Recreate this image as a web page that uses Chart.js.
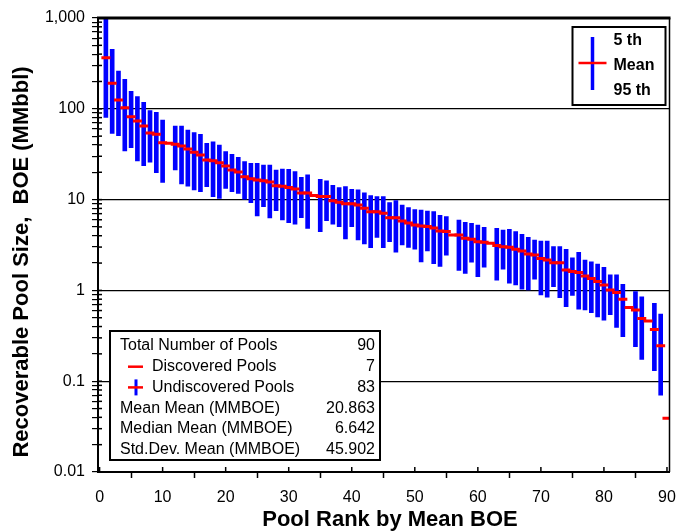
<!DOCTYPE html>
<html>
<head>
<meta charset="utf-8">
<script src="https://cdn.jsdelivr.net/npm/chart.js@4.4.0/dist/chart.umd.min.js"></script>
<style>
  html, body { margin: 0; padding: 0; background: #fff; }
</style>
</head>
<body>
<canvas id="myChart" width="677" height="531"></canvas>
<script>
"use strict";

// pools ranked by mean BOE
const poolRank = [
  1, 2, 3, 4, 5, 6, 7, 8, 9, 10, 11, 12, 13, 14, 15, 16, 17, 18, 19, 20,
  21, 22, 23, 24, 25, 26, 27, 28, 29, 30, 31, 32, 33, 34, 35, 36, 37, 38, 39, 40,
  41, 42, 43, 44, 45, 46, 47, 48, 49, 50, 51, 52, 53, 54, 55, 56, 57, 58, 59, 60,
  61, 62, 63, 64, 65, 66, 67, 68, 69, 70, 71, 72, 73, 74, 75, 76, 77, 78, 79, 80,
  81, 82, 83, 84, 85, 86, 87, 88, 89, 90
];
const meanBoe = [
  365, 191, 125, 103, 81.8, 73.4, 64.7, 54.1, 52.4, 42.4,
  41.7, 40.6, 38.9, 36.1, 33.2, 31.0, 27.3, 26.8, 25.5, 23.4,
  21.2, 20.1, 17.9, 17.0, 16.4, 16.1, 15.6, 14.2, 14.0, 13.6,
  13.1, 11.8, 11.8, 11.1, 10.8, 10.8, 9.73, 9.33, 9.02, 9.02,
  8.73, 8.02, 7.36, 7.36, 7.06, 6.32, 6.32, 5.81, 5.52, 5.25,
  5.12, 5.04, 4.86, 4.51, 4.44, 4.07, 4.07, 3.75, 3.66, 3.44,
  3.38, 3.30, 3.13, 3.03, 2.98, 2.84, 2.72, 2.52, 2.45, 2.25,
  2.16, 2.02, 2.02, 1.68, 1.61, 1.57, 1.44, 1.35, 1.25, 1.15,
  1.01, 0.95, 0.80, 0.65, 0.61, 0.49, 0.46, 0.37, 0.246, 0.039
];
// 5th percentile (null = discovered pool, no range)
const p5Boe = [
  80.5, 53.7, 50.6, 34.3, 37.3, 26.6, 23.6, 25.8, 19.8, 15.5,
  null, 21.2, 14.9, 14.1, 12.8, 12.2, 13.9, 10.8, 10.3, 13.3,
  12.2, 11.7, 10.1, 9.25, 6.6, 8.35, 6.3, 7.55, 5.96, 5.57,
  5.35, 6.32, 4.83, null, 4.44, 5.86, 5.35, 5.04, 3.68, 5.04,
  3.59, 3.24, 2.96, 3.84, 2.96, 3.44, 2.63, 3.16, 2.98, 2.84,
  2.06, 2.72, 1.97, 1.84, 2.45, null, 1.66, 1.54, 2.04, 1.42,
  1.80, null, 1.30, 1.71, 1.20, 1.15, 1.03, 1.01, 1.33, 0.89,
  0.84, 1.10, 0.83, 0.66, 0.88, 0.62, 0.61, 0.57, 0.51, 0.47,
  0.54, 0.39, 0.31, null, 0.24, 0.174, null, 0.131, 0.070, null
];
// 95th percentile
const p95Boe = [
  1000, 452, 261, 211, 156, 136, 118, 95.3, 91.5, 75.3,
  null, 64.7, 64.7, 58.4, 54.6, 52.4, 41.7, 43.4, 39.9, 33.7,
  31.5, 29.2, 26.2, 25.1, 25.1, 24.0, 24.0, 21.2, 21.7, 21.5,
  20.3, 17.6, 18.7, null, 16.7, 16.1, 14.4, 13.6, 13.9, 13.0,
  12.8, 11.9, 11.1, 10.8, 10.8, 9.25, 9.73, 8.73, 8.15, 7.74,
  7.67, 7.48, 7.36, 6.71, 6.49, null, 5.96, 5.62, 5.48, 5.25,
  4.95, null, 4.83, 4.62, 4.71, 4.44, 4.15, 3.84, 3.59, 3.50,
  3.50, 3.03, 3.03, 2.84, 2.29, 2.63, 2.16, 2.07, 1.95, 1.80,
  1.48, 1.48, 1.17, null, 0.97, 0.85, null, 0.72, 0.55, null
];

const xTickValues = [0, 10, 20, 30, 40, 50, 60, 70, 80, 90];
const yMajorValues = [0.01, 0.1, 1, 10, 100, 1000];
const yTickLabels = ['0.01', '0.1', '1', '10', '100', '1,000'];

const xTitle = 'Pool Rank by Mean BOE';
const yTitle = 'Recoverable Pool Size,  BOE (MMbbl)';
const summaryLabels = ['Total Number of Pools', 'Discovered Pools', 'Undiscovered Pools',
  'Mean Mean (MMBOE)', 'Median Mean (MMBOE)', 'Std.Dev. Mean (MMBOE)'];
const summaryValues = ['90', '7', '83', '20.863', '6.642', '45.902'];
const legendLabels = ['5 th', 'Mean', '95 th'];

const FONT = '"Liberation Sans", Arial, sans-serif';
const BLUE = '#0000ff';
const RED = '#ff0000';

const rangeData = [];
const meanData = [];
poolRank.forEach((r, i) => {
  if (p5Boe[i] !== null) rangeData.push({ x: r, y: [p5Boe[i], p95Boe[i]] });
  meanData.push({ x: r, y: meanBoe[i] });
});

function isMajor(v) {
  return yMajorValues.findIndex(m => Math.abs(v - m) / m < 1e-6);
}

// frame, inner tick marks, axis titles, legend box and summary box
const decorations = {
  id: 'decorations',
  afterDraw(chart) {
    const ctx = chart.ctx;
    const a = chart.chartArea;
    const xs = chart.scales.x;
    const ys = chart.scales.y;
    ctx.save();
    ctx.strokeStyle = '#000';

    // inner ticks on x axis
    ctx.lineWidth = 1.5;
    xTickValues.forEach(v => {
      const px = xs.getPixelForValue(v);
      ctx.beginPath();
      ctx.moveTo(px, a.bottom);
      ctx.lineTo(px, a.bottom - 5);
      ctx.stroke();
    });
    // inner ticks on y axis
    ys.ticks.forEach(t => {
      const py = ys.getPixelForValue(t.value);
      ctx.beginPath();
      ctx.moveTo(a.left, py);
      ctx.lineTo(a.left + 4, py);
      ctx.stroke();
    });

    // top and right frame
    ctx.lineWidth = 3;
    ctx.beginPath();
    ctx.moveTo(a.left - 1, a.top);
    ctx.lineTo(a.right + 1, a.top);
    ctx.stroke();
    ctx.lineWidth = 1.5;
    ctx.beginPath();
    ctx.moveTo(a.right, a.top);
    ctx.lineTo(a.right, a.bottom);
    ctx.stroke();

    // axis titles
    ctx.fillStyle = '#000';
    ctx.font = 'bold 22px ' + FONT;
    ctx.textAlign = 'center';
    ctx.textBaseline = 'middle';
    ctx.fillText(xTitle, 390, 520);
    ctx.save();
    ctx.translate(22, 262);
    ctx.rotate(-Math.PI / 2);
    ctx.fillText(yTitle, 0, 0);
    ctx.restore();

    // legend box, top right
    const lgR = a.right - 4, lgL = lgR - 93, lgT = a.top + 9, lgB = a.top + 87;
    ctx.fillStyle = '#fff';
    ctx.fillRect(lgL, lgT, lgR - lgL, lgB - lgT);
    ctx.strokeStyle = '#000';
    ctx.lineWidth = 2;
    ctx.strokeRect(lgL, lgT, lgR - lgL, lgB - lgT);
    ctx.strokeStyle = BLUE;
    ctx.lineWidth = 3.5;
    ctx.beginPath();
    ctx.moveTo(lgL + 20, lgT + 10);
    ctx.lineTo(lgL + 20, lgB - 15);
    ctx.stroke();
    ctx.strokeStyle = RED;
    ctx.lineWidth = 2.5;
    ctx.beginPath();
    ctx.moveTo(lgL + 6, lgT + 36);
    ctx.lineTo(lgL + 34, lgT + 36);
    ctx.stroke();
    ctx.fillStyle = '#000';
    ctx.font = 'bold 16px ' + FONT;
    ctx.textBaseline = 'middle';
    ctx.textAlign = 'left';
    legendLabels.forEach((t, i) => {
      ctx.fillText(t, lgL + 41, lgT + 14 + i * 25);
    });

    // summary box, bottom left
    const bxL = a.left + 12, bxT = 331, bxR = 380, bxB = 460;
    ctx.fillStyle = '#fff';
    ctx.fillRect(bxL, bxT, bxR - bxL, bxB - bxT);
    ctx.strokeStyle = '#000';
    ctx.lineWidth = 2;
    ctx.strokeRect(bxL, bxT, bxR - bxL, bxB - bxT);
    ctx.font = '16px ' + FONT;
    ctx.fillStyle = '#000';
    summaryLabels.forEach((t, i) => {
      const y = bxT + 15 + i * 20.7;
      const indent = (i === 1 || i === 2) ? 42 : 10;
      ctx.textAlign = 'left';
      ctx.fillText(t, bxL + indent, y);
      ctx.textAlign = 'right';
      ctx.fillText(summaryValues[i], bxR - 5, y);
      if (i === 1 || i === 2) {
        if (i === 2) {
          ctx.strokeStyle = BLUE;
          ctx.lineWidth = 3;
          ctx.beginPath();
          ctx.moveTo(bxL + 26, y - 8);
          ctx.lineTo(bxL + 26, y + 8);
          ctx.stroke();
        }
        ctx.strokeStyle = RED;
        ctx.lineWidth = 2.5;
        ctx.beginPath();
        ctx.moveTo(bxL + 18, y);
        ctx.lineTo(bxL + 33, y);
        ctx.stroke();
      }
    });
    ctx.restore();
  }
};

const ctx = document.getElementById('myChart');
const myChart = new Chart(ctx, {
  data: {
    datasets: [{
      type: 'scatter',
      label: 'Mean',
      data: meanData,
      pointStyle: 'line',
      pointRadius: 4.5,
      borderColor: RED,
      borderWidth: 3,
      order: 0
    }, {
      type: 'bar',
      label: '5th - 95th',
      data: rangeData,
      backgroundColor: BLUE,
      borderWidth: 0,
      barThickness: 4,
      order: 1
    }]
  },
  options: {
    responsive: false,
    animation: false,
    devicePixelRatio: 1,
    layout: { padding: { left: 0, right: 7, top: 18, bottom: 0 } },
    plugins: {
      legend: { display: false },
      tooltip: { enabled: false }
    },
    scales: {
      x: {
        type: 'linear',
        min: -0.25,
        max: 90.4,
        offset: false,
        afterBuildTicks: s => { s.ticks = xTickValues.map(v => ({ value: v })); },
        afterFit: s => { s.height = 59; s.paddingLeft = 0; s.paddingRight = 0; },
        border: { color: '#000', width: 2 },
        grid: { drawOnChartArea: false, drawTicks: true, tickLength: 6, tickColor: '#000', tickWidth: 1.5 },
        ticks: { color: '#000', font: { family: FONT, size: 16 }, padding: 10, maxRotation: 0, autoSkip: false }
      },
      y: {
        type: 'logarithmic',
        min: 0.01,
        max: 1000,
        afterBuildTicks: s => {
          const ticks = [];
          for (let k = 0; k < yMajorValues.length - 1; k++) {
            for (let m = 1; m <= 9; m++) {
              ticks.push({ value: Number((yMajorValues[k] * m).toPrecision(3)) });
            }
          }
          ticks.push({ value: 1000 });
          s.ticks = ticks;
        },
        afterFit: s => { s.width = 98; },
        border: { color: '#000', width: 2 },
        grid: {
          color: c => (isMajor(c.tick.value) >= 0 ? '#000' : 'rgba(0,0,0,0)'),
          lineWidth: 1.2,
          tickColor: '#000',
          tickLength: 6,
          tickWidth: 1.2
        },
        ticks: {
          color: '#000',
          font: { family: FONT, size: 16 },
          padding: 7,
          autoSkip: false,
          callback: v => {
            const idx = isMajor(v);
            return idx >= 0 ? yTickLabels[idx] : '';
          }
        }
      }
    }
  },
  plugins: [decorations]
});
</script>
</body>
</html>
